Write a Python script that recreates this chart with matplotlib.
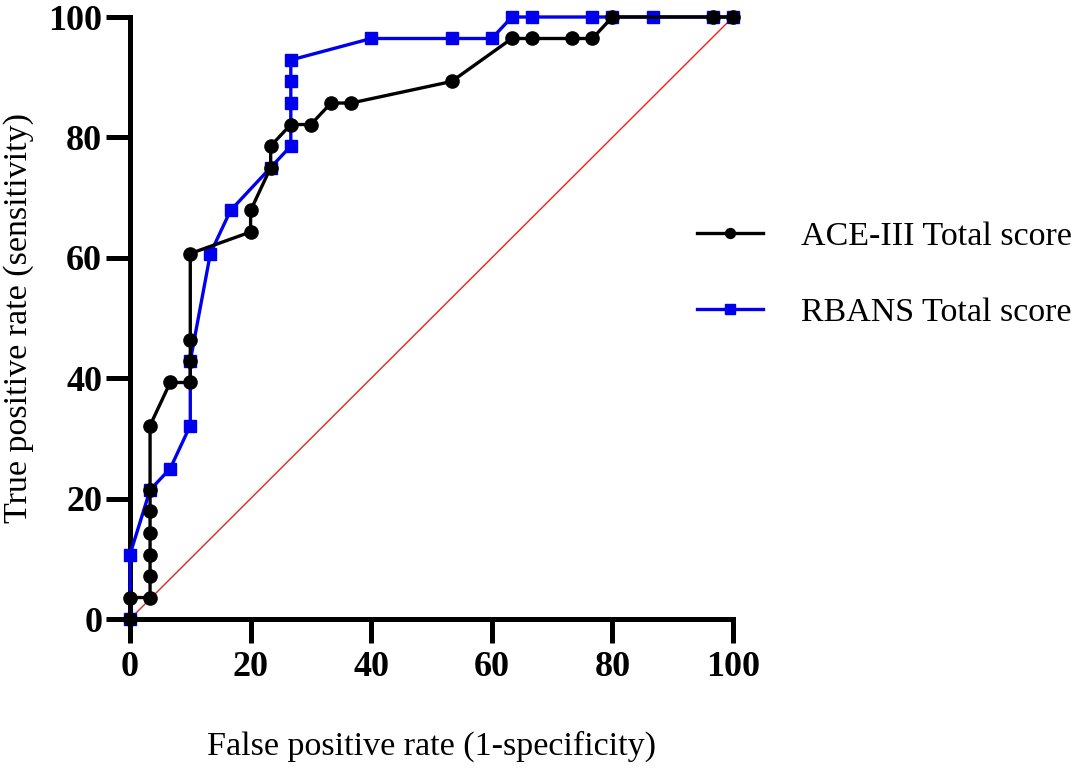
import matplotlib
matplotlib.use("Agg")
import matplotlib.pyplot as plt

# ROC points, in percent (1 - specificity, sensitivity)
ace_fpr = [0, 0, 3.33, 3.33, 3.33, 3.33, 3.33, 3.33, 3.33, 6.67, 10, 10, 10,
           10, 20, 20, 23.33, 23.33, 26.67, 30, 33.33, 36.67, 53.33, 63.33,
           66.67, 73.33, 76.67, 80, 96.67, 100]
ace_tpr = [0, 3.57, 3.57, 7.14, 10.71, 14.29, 17.86, 21.43, 32.14, 39.29,
           39.29, 42.86, 46.43, 60.71, 64.29, 67.86, 75, 78.57, 82.14, 82.14,
           85.71, 85.71, 89.29, 96.43, 96.43, 96.43, 96.43, 100, 100, 100]

rbans_fpr = [0, 0, 3.33, 6.67, 10, 10, 13.33, 16.67, 23.33, 26.67, 26.67,
             26.67, 26.67, 40, 53.33, 60, 63.33, 66.67, 76.67, 80, 86.67,
             96.67, 100]
rbans_tpr = [0, 10.71, 21.43, 25, 32.14, 42.86, 60.71, 67.86, 75, 78.57,
             85.71, 89.29, 92.86, 96.43, 96.43, 96.43, 100, 100, 100, 100,
             100, 100, 100]

ticks = [0, 20, 40, 60, 80, 100]

plt.rcParams['font.family'] = ['Liberation Serif', 'DejaVu Serif']

fig = plt.figure(figsize=(10.85, 7.73), dpi=100)
ax = fig.add_axes([0.1198, 0.1992, 0.5558, 0.7788])

ax.plot([0, 100], [0, 100], color='#e8231f', linewidth=1.0, zorder=1)
ax.plot(rbans_fpr, rbans_tpr, color='#0000ee', linewidth=2.4, marker='s',
        markersize=9, clip_on=False, zorder=3, label='RBANS Total score')
ax.plot(ace_fpr, ace_tpr, color='black', linewidth=2.4, marker='o',
        markersize=9.5, clip_on=False, zorder=4, label='ACE-III Total score')

ax.set_xlim(0, 100)
ax.set_ylim(0, 100)
ax.set_xticks(ticks)
ax.set_yticks(ticks)

for side in ['top', 'right']:
    ax.spines[side].set_visible(False)
for side in ['left', 'bottom']:
    ax.spines[side].set_linewidth(3.6)

ax.tick_params(axis='both', length=17, width=3.6, labelsize=26)
ax.tick_params(axis='x', pad=6)
ax.tick_params(axis='y', pad=3)
for lab in ax.get_xticklabels() + ax.get_yticklabels():
    lab.set_fontweight('bold')

ax.set_xlabel('False positive rate (1-specificity)', fontsize=24.5, labelpad=34)
ax.set_ylabel('True positive rate (sensitivity)', fontsize=24.5, labelpad=10)

handles, labels = ax.get_legend_handles_labels()
ax.legend(handles[::-1], labels[::-1], loc='center left',
          bbox_to_anchor=(0.94, 0.572), frameon=False, fontsize=24.5,
          borderpad=0, borderaxespad=0,
          markerscale=0.75, handlelength=1.95, handletextpad=1.1,
          labelspacing=1.32)

plt.savefig('out.png', dpi=100)
